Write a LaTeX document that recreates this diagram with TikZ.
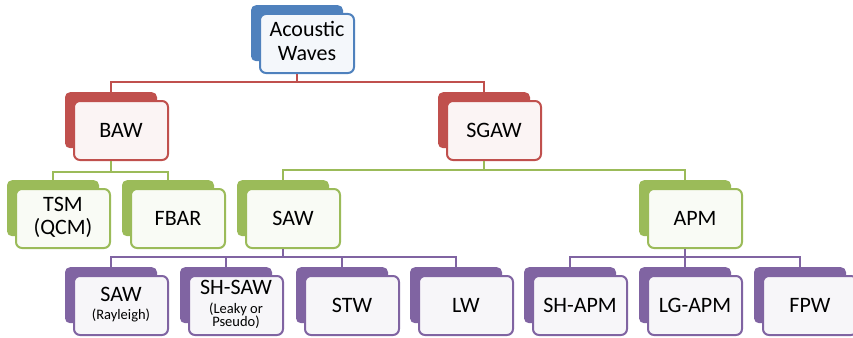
\documentclass[tikz,border=0pt]{standalone}
\usepackage{fontspec}
\setmainfont{Carlito}
\definecolor{cblue}{HTML}{4F81BD}
\definecolor{cred}{HTML}{C0504D}
\definecolor{cgreen}{HTML}{9BBB59}
\definecolor{cpurple}{HTML}{8064A2}
\newcommand\smalltxt{\fontsize{14.5}{15}\selectfont}
\tikzset{
  backbox/.style={rectangle, rounded corners=5pt, fill=#1, minimum width=92pt,
    minimum height=56pt, inner sep=0pt, anchor=north},
  frontbox/.style={rectangle, rounded corners=6pt, draw=#1, fill=#1!6, line width=2pt,
    minimum width=94pt, minimum height=59pt, inner sep=0pt, align=center,
    font=\fontsize{22}{24}\selectfont},
  bus/.style={draw=#1, line width=2.2pt}
}
\newcommand\orgbox[5]{%
  \node[backbox=#4] (#1-b) at (#2,#3) {};
  \node[frontbox=#4] (#1) at (#2+10,#3+38.5) {#5};
}
\begin{document}
\begin{tikzpicture}[x=1pt,y=-1pt]
\useasboundingbox (0,0) rectangle (853,337);
\clip (0,0) rectangle (853,337);
\coordinate (busA) at (0,82);
\coordinate (busB) at (0,172);
\coordinate (busC) at (0,170);
\coordinate (busD) at (0,257);
% level 0
\orgbox{top}{297}{5}{cblue}{\begin{tabular}{@{}c@{}}Acoustic\\[-0.5pt]Waves\end{tabular}}
% level 1
\orgbox{baw}{111}{92}{cred}{BAW}
\orgbox{sgaw}{484}{92}{cred}{SGAW}
% level 2
\orgbox{tsm}{53}{180}{cgreen}{\begin{tabular}{@{}c@{}}TSM\\[-1pt](QCM)\end{tabular}}
\orgbox{fbar}{168}{180}{cgreen}{FBAR}
\orgbox{saw}{283}{180}{cgreen}{SAW}
\orgbox{apm}{685}{180}{cgreen}{APM}
% level 3
\orgbox{ray}{111}{267}{cpurple}{\begin{tabular}{@{}c@{}}SAW\\[-6pt]\smalltxt (Rayleigh)\end{tabular}}
\orgbox{shsaw}{226}{267}{cpurple}{\begin{tabular}{@{}c@{}}SH-SAW\\[-5pt]\smalltxt (Leaky or\\[-11pt]\smalltxt Pseudo)\end{tabular}}
\orgbox{stw}{342}{267}{cpurple}{STW}
\orgbox{lw}{456}{267}{cpurple}{LW}
\orgbox{shapm}{570}{267}{cpurple}{SH-APM}
\orgbox{lgapm}{685}{267}{cpurple}{LG-APM}
\orgbox{fpw}{800}{267}{cpurple}{FPW}
% connectors
\draw[bus=cred] (top-b.south |- top.south) -- (top-b.south |- busA) -| (baw-b.north);
\draw[bus=cred] (top-b.south |- busA) -| (sgaw-b.north);
\draw[bus=cgreen] (baw-b.south |- baw.south) -- (baw-b.south |- busB) -| (tsm-b.north);
\draw[bus=cgreen] (baw-b.south |- busB) -| (fbar-b.north);
\draw[bus=cgreen] (sgaw-b.south |- sgaw.south) -- (sgaw-b.south |- busC) -| (saw-b.north);
\draw[bus=cgreen] (sgaw-b.south |- busC) -| (apm-b.north);
\draw[bus=cpurple] (saw-b.south |- saw.south) -- (saw-b.south |- busD) -| (ray-b.north);
\draw[bus=cpurple] (saw-b.south |- busD) -| (shsaw-b.north);
\draw[bus=cpurple] (saw-b.south |- busD) -| (stw-b.north);
\draw[bus=cpurple] (saw-b.south |- busD) -| (lw-b.north);
\draw[bus=cpurple] (apm-b.south |- apm.south) -- (apm-b.south |- busD) -| (shapm-b.north);
\draw[bus=cpurple] (apm-b.south |- busD) -| (lgapm-b.north);
\draw[bus=cpurple] (apm-b.south |- busD) -| (fpw-b.north);
\end{tikzpicture}
\end{document}
